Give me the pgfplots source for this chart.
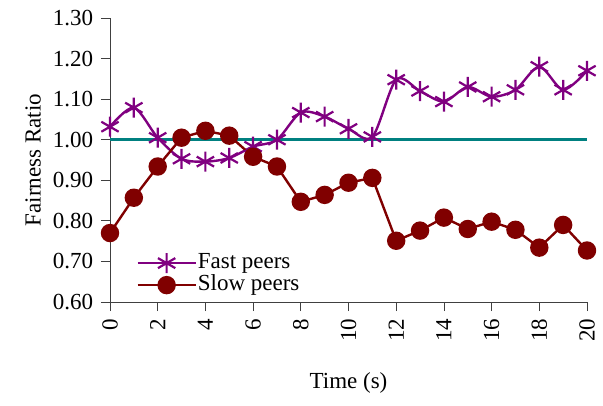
\documentclass[border=0pt]{standalone}
\usepackage{fontspec}
\setmainfont{Liberation Serif}
\usepackage{pgfplots}
\pgfplotsset{compat=1.18}
\definecolor{fastc}{RGB}{128,0,128}
\definecolor{slowc}{RGB}{128,0,0}
\definecolor{refc}{RGB}{0,128,128}
\begin{document}
\fontsize{23}{26}\selectfont
\begin{tikzpicture}
\begin{axis}[
  scale only axis,
  width=477pt, height=284pt,
  xmin=0, xmax=20, ymin=0.6, ymax=1.3,
  axis x line=bottom, axis y line=left,
  axis line style={-, black!75, line width=0.8pt},
  xtick={0,2,...,20},
  ytick={0.6,0.7,0.8,0.9,1.0,1.1,1.2,1.3},
  tick align=outside,
  major tick length=9pt,
  tick style={black!75, line width=0.8pt},
  /pgf/number format/assume math mode=true,
  yticklabel style={/pgf/number format/fixed, /pgf/number format/fixed zerofill, /pgf/number format/precision=2, font=\fontsize{23}{26}\selectfont},
  xticklabel style={rotate=90, anchor=east, font=\fontsize{23}{26}\selectfont},
  xlabel={Time (s)},
  ylabel={Fairness Ratio},
  xlabel style={at={(axis description cs:0.5,-0.285)}, anchor=center, font=\fontsize{23}{26}\selectfont},
  ylabel style={at={(axis description cs:-0.161,0.5)}, anchor=center, font=\fontsize{23}{26}\selectfont},
  clip=false,
  legend style={at={(0.055,0.02)}, anchor=south west, draw=none, fill=none,
    font=\fontsize{23}{26}\selectfont, row sep=0pt, inner sep=0pt,
    nodes={inner sep=1pt, text height=15pt, text depth=5pt}},
  legend cell align=left,
  legend image code/.code={\draw[mark repeat=2,mark phase=2,#1] plot coordinates {(0pt,0pt)(29pt,0pt)(58pt,0pt)};},
]
\addplot[refc, line width=2.5pt, no marks, forget plot] coordinates {(0,1.0)(20,1.0)};
\addplot[fastc, line width=2.4pt, smooth, mark=asterisk, mark size=10pt, mark options={line width=2.2pt}] coordinates {
(0,1.032)(1,1.079)(2,1.005)(3,0.953)(4,0.946)(5,0.955)(6,0.983)(7,1.000)(8,1.067)(9,1.057)(10,1.027)
(11,1.007)(12,1.148)(13,1.120)(14,1.094)(15,1.130)(16,1.106)(17,1.123)(18,1.180)(19,1.123)(20,1.170)};
\addlegendentry{Fast peers}
\addplot[slowc, line width=2.4pt, mark=*, mark size=8pt, mark options={fill=slowc}] coordinates {
(0,0.770)(1,0.857)(2,0.934)(3,1.005)(4,1.022)(5,1.010)(6,0.958)(7,0.934)(8,0.847)(9,0.864)(10,0.894)
(11,0.906)(12,0.751)(13,0.776)(14,0.808)(15,0.780)(16,0.798)(17,0.778)(18,0.734)(19,0.790)(20,0.727)};
\addlegendentry{Slow peers}
\end{axis}
\pgfresetboundingbox
\useasboundingbox ([shift={(-110pt,-103pt)}]current axis.south west) rectangle ([shift={(493pt,302pt)}]current axis.south west);
\end{tikzpicture}
\end{document}
